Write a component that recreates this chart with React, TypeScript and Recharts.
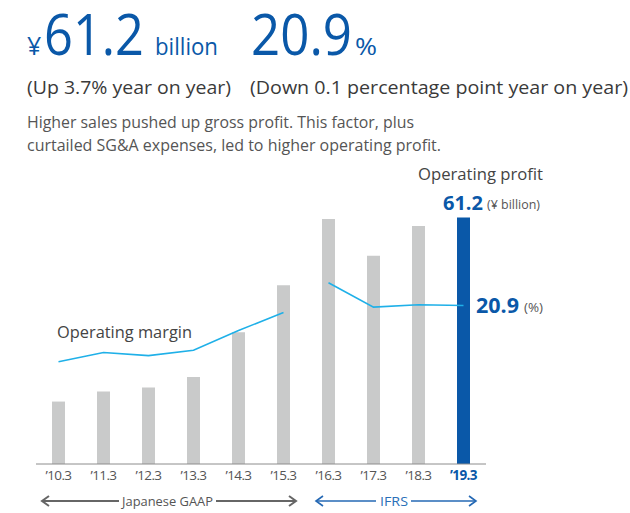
import { ComposedChart, Bar, Line, XAxis, YAxis, Cell } from "recharts";

const years = ["’10.3", "’11.3", "’12.3", "’13.3", "’14.3", "’15.3", "’16.3", "’17.3", "’18.3", "’19.3"];
// operating profit, ¥ billion
const operatingProfit = [15.5, 18.0, 19.0, 21.6, 32.7, 44.4, 60.8, 51.7, 59.1, 61.2];
// operating margin, %, split by accounting standard
const marginGaap = [13.5, 14.7, 14.3, 15.0, 17.6, 20.0, null, null, null, null];
const marginIfrs = [null, null, null, null, null, null, 23.9, 20.7, 21.0, 20.9];

const BLUE = "#0a58a8";
const GRAY_BAR = "#c9caca";
const CYAN = "#1fb0e8";
const FONT = "'Open Sans', sans-serif";

const data = years.map((year, i) => ({
  year,
  profit: operatingProfit[i],
  gaap: marginGaap[i],
  ifrs: marginIfrs[i],
}));

const YearTick = (props: any) => {
  const { x, y, payload, index } = props;
  const last = index === years.length - 1;
  return (
    <text
      x={x}
      y={y + 8}
      textAnchor="middle"
      fontFamily={FONT}
      fontSize={13.5}
      fontWeight={last ? 700 : 400}
      fill={last ? BLUE : "#555"}
      letterSpacing={-0.6}
    >
      {payload.value}
    </text>
  );
};

const Arrow = ({ x1, x2, y, color, w }: { x1: number; x2: number; y: number; color: string; w: number }) => (
  <g stroke={color} strokeWidth={w} fill="none">
    <line x1={x1} y1={y} x2={x2} y2={y} />
  </g>
);

const Head = ({ x, y, dir, color, w }: { x: number; y: number; dir: number; color: string; w: number }) => (
  <polyline
    points={`${x + dir * 7},${y - 5} ${x},${y} ${x + dir * 7},${y + 5}`}
    stroke={color}
    strokeWidth={w}
    fill="none"
  />
);

export default function App() {
  return (
    <div style={{ position: "absolute", left: 0, top: 0, width: 630, height: 513, background: "#fff" }}>
      <div style={{ position: "absolute", left: 0, top: 0 }}>
        <ComposedChart width={630} height={513} data={data} margin={{ top: 182, right: 144, bottom: 19, left: 36 }}>
          <XAxis
            dataKey="year"
            interval={0}
            tickLine={false}
            axisLine={{ stroke: "#8c8c8c", strokeWidth: 1 }}
            tick={<YearTick />}
            height={30}
          />
          <YAxis yAxisId="amt" domain={[0, 70]} hide width={0} />
          <YAxis yAxisId="pct" domain={[0, 37.2]} hide width={0} orientation="right" />
          <Bar yAxisId="amt" dataKey="profit" barSize={13} isAnimationActive={false}>
            {data.map((_, i) => (
              <Cell key={i} fill={i === data.length - 1 ? BLUE : GRAY_BAR} />
            ))}
          </Bar>
          <Line
            yAxisId="pct"
            type="linear"
            dataKey="gaap"
            stroke={CYAN}
            strokeWidth={1.6}
            dot={false}
            connectNulls={false}
            isAnimationActive={false}
          />
          <Line
            yAxisId="pct"
            type="linear"
            dataKey="ifrs"
            stroke={CYAN}
            strokeWidth={1.6}
            dot={false}
            connectNulls={false}
            isAnimationActive={false}
          />
        </ComposedChart>
      </div>

      <svg
        width={630}
        height={513}
        style={{ position: "absolute", left: 0, top: 0, pointerEvents: "none" }}
        fontFamily={FONT}
      >
        {/* headline figures */}
        <text x={27} y={55} fontSize={25} fill={BLUE}>¥</text>
        <text x={44} y={55} fontSize={57} fill={BLUE} textLength={100} lengthAdjust="spacingAndGlyphs">61.2</text>
        <text x={155} y={55} fontSize={23} fill={BLUE} textLength={63} lengthAdjust="spacingAndGlyphs">billion</text>
        <text x={251} y={55} fontSize={57} fill={BLUE} textLength={101} lengthAdjust="spacingAndGlyphs">20.9</text>
        <text x={355} y={55} fontSize={23} fill={BLUE} textLength={22} lengthAdjust="spacingAndGlyphs">%</text>

        <text x={27} y={94} fontSize={18.5} fill="#3a3a3a" textLength={204} lengthAdjust="spacingAndGlyphs">
          (Up 3.7% year on year)
        </text>
        <text x={250} y={94} fontSize={18.5} fill="#3a3a3a" textLength={378} lengthAdjust="spacingAndGlyphs">
          (Down 0.1 percentage point year on year)
        </text>

        <text x={27} y={128} fontSize={16} fill="#555" textLength={387} lengthAdjust="spacingAndGlyphs">
          Higher sales pushed up gross profit. This factor, plus
        </text>
        <text x={27} y={151} fontSize={16} fill="#555" textLength={414} lengthAdjust="spacingAndGlyphs">
          curtailed SG&amp;A expenses, led to higher operating profit.
        </text>

        {/* series annotations */}
        <text x={418} y={180} fontSize={17} fill="#444" textLength={125} lengthAdjust="spacingAndGlyphs">Operating profit</text>
        <text x={443} y={210} fontSize={20} fontWeight={700} fill={BLUE} textLength={40} lengthAdjust="spacingAndGlyphs">61.2</text>
        <text x={487} y={209} fontSize={12} fill="#555" textLength={53} lengthAdjust="spacingAndGlyphs">(¥ billion)</text>
        <text x={476} y={313} fontSize={21} fontWeight={700} fill={BLUE} textLength={43} lengthAdjust="spacingAndGlyphs">20.9</text>
        <text x={524} y={312} fontSize={12} fill="#555" textLength={19} lengthAdjust="spacingAndGlyphs">(%)</text>
        <text x={57} y={338} fontSize={17} fill="#444" textLength={135} lengthAdjust="spacingAndGlyphs">Operating margin</text>

        {/* accounting standard spans */}
        <Arrow x1={42} x2={119} y={501} color="#666" w={2} />
        <Arrow x1={216} x2={296} y={501} color="#666" w={2} />
        <Head x={42} y={501} dir={1} color="#666" w={2} />
        <Head x={296} y={501} dir={-1} color="#666" w={2} />
        <text x={122} y={506} fontSize={13.5} fill="#555" textLength={91} lengthAdjust="spacingAndGlyphs">Japanese GAAP</text>

        <Arrow x1={316} x2={376} y={501} color="#2468b4" w={1.6} />
        <Arrow x1={411} x2={476} y={501} color="#2468b4" w={1.6} />
        <Head x={316} y={501} dir={1} color="#2468b4" w={1.6} />
        <Head x={476} y={501} dir={-1} color="#2468b4" w={1.6} />
        <text x={380} y={506} fontSize={13.5} fill="#2a6fb8" textLength={28} lengthAdjust="spacingAndGlyphs">IFRS</text>
      </svg>
    </div>
  );
}
